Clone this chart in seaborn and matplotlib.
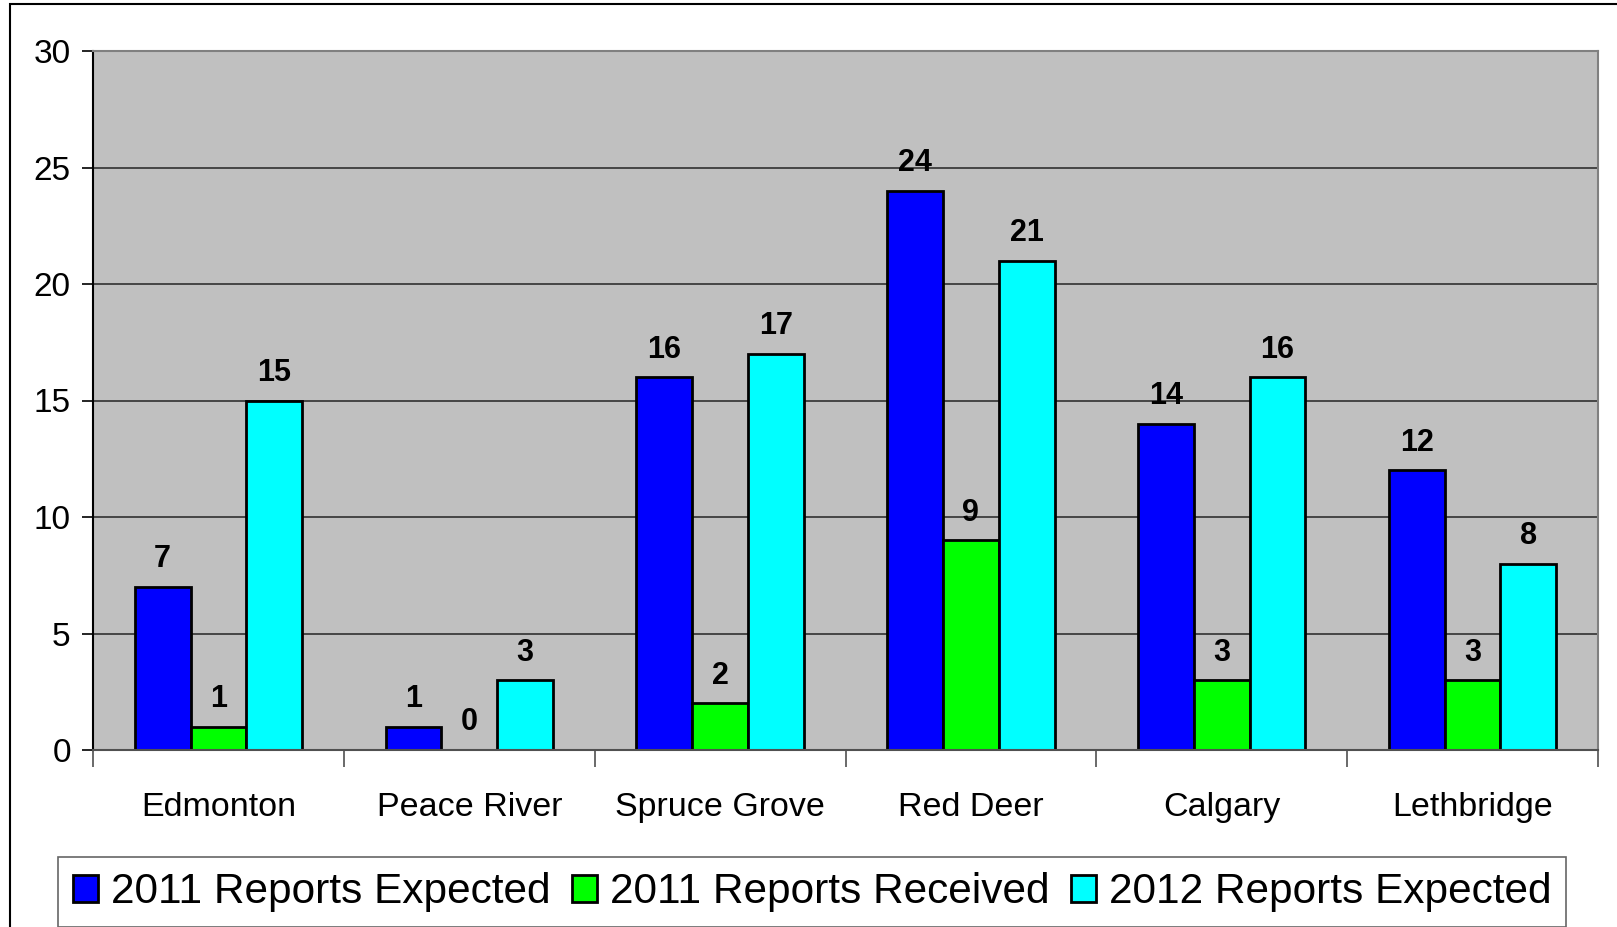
import matplotlib
matplotlib.use("Agg")
import matplotlib.pyplot as plt
import seaborn as sns
import pandas as pd
from matplotlib.patches import Rectangle, Patch

categories = ["Edmonton", "Peace River", "Spruce Grove", "Red Deer", "Calgary", "Lethbridge"]
series_names = ["2011 Reports Expected", "2011 Reports Received", "2012 Reports Expected"]
expected_2011 = [7, 1, 16, 24, 14, 12]
received_2011 = [1, 0, 2, 9, 3, 3]
expected_2012 = [15, 3, 17, 21, 16, 8]
y_ticks = [0, 5, 10, 15, 20, 25, 30]
colors = ["#0000FF", "#00FF00", "#00FFFF"]

rows = []
for name, vals in zip(series_names, [expected_2011, received_2011, expected_2012]):
    for c, v in zip(categories, vals):
        rows.append({"City": c, "Series": name, "Value": v})
df = pd.DataFrame(rows)

sns.set_style("white")
plt.rcParams["font.family"] = ["Liberation Sans", "DejaVu Sans"]
plt.rcParams["text.color"] = "black"
plt.rcParams["xtick.color"] = "black"
plt.rcParams["ytick.color"] = "black"
plt.rcParams["xtick.labelcolor"] = "black"
plt.rcParams["ytick.labelcolor"] = "black"

fig = plt.figure(figsize=(16.17, 9.27), dpi=100)
ax = fig.add_axes([93 / 1617, 1 - 750 / 927, (1598 - 93) / 1617, (750 - 51) / 927])
ax.set_facecolor("#C0C0C0")

sns.barplot(data=df, x="City", y="Value", hue="Series", order=categories,
            hue_order=series_names, palette=colors, width=0.667,
            edgecolor="black", linewidth=2, saturation=1, ax=ax, legend=False)

for cont in ax.containers:
    ax.bar_label(cont, fmt="%d", padding=9, fontsize=22, fontweight="bold", color="black")

ax.set_ylim(0, 30)
ax.set_xlim(-0.5, len(categories) - 0.5)
ax.set_yticks(y_ticks)
ax.yaxis.grid(True, color="#303030", linewidth=1.2)
ax.set_axisbelow(True)
ax.set_xlabel("")
ax.set_ylabel("")
ax.tick_params(axis="y", labelsize=24, length=8, width=1.2, color="black", pad=8, left=True)
ax.tick_params(axis="x", which="major", labelsize=24.5, length=0, pad=30)
ax.set_xticks([i - 0.5 for i in range(len(categories) + 1)], minor=True)
ax.tick_params(axis="x", which="minor", length=12, width=1.2, color="#505050", bottom=True)

for side in ["top", "right"]:
    ax.spines[side].set_visible(True)
    ax.spines[side].set_color("#808080")
    ax.spines[side].set_linewidth(1.5)
ax.spines["left"].set_color("black")
ax.spines["left"].set_linewidth(1.5)
ax.spines["bottom"].set_color("#505050")
ax.spines["bottom"].set_linewidth(1.5)

handles = [Patch(facecolor=c, edgecolor="black", linewidth=2) for c in colors]
leg = fig.legend(handles, series_names, loc="center", bbox_to_anchor=(812 / 1617, 1 - 892 / 927),
                 bbox_transform=fig.transFigure, ncol=3, fontsize=30.5, frameon=True,
                 fancybox=False, edgecolor="#404040", handlelength=0.6, handleheight=0.6,
                 handletextpad=0.3, columnspacing=0.5, borderpad=0.35, borderaxespad=0)
leg.get_frame().set_linewidth(1.2)

fig.patches.append(Rectangle((10 / 1617, -0.1), 1.2, 0.1 + (927 - 4) / 927,
                             transform=fig.transFigure, fill=False, edgecolor="black",
                             linewidth=1.5, figure=fig))

fig.savefig("out.png", dpi=100, facecolor="white")
